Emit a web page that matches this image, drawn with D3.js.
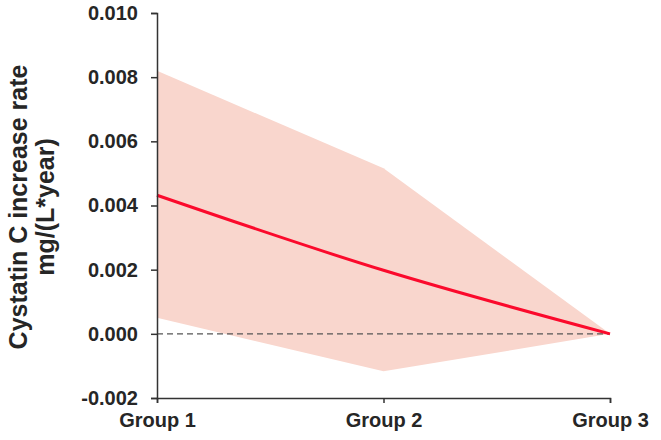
<!DOCTYPE html>
<html><head><meta charset="utf-8">
<script src="https://cdn.jsdelivr.net/npm/d3@7/dist/d3.min.js"></script>
<style>body{margin:0;background:#fff;} svg{display:block;} text{font-family:"Liberation Sans",Arial,sans-serif;font-weight:bold;fill:#262626;}</style>
</head><body><svg id="c" width="661" height="440"></svg>
<script>
const groups = ["Group 1", "Group 2", "Group 3"];
const estimate = [0.00432, 0.00198, 0.0];
const upper = [0.0082, 0.00516, 0.0];
const lower = [0.0005, -0.00117, 0.0];
const yTicks = [-0.002, 0.000, 0.002, 0.004, 0.006, 0.008, 0.010];
const yTitle = ["Cystatin C increase rate", "mg/(L*year)"];

const svg = d3.select("#c");
const x = d3.scalePoint().domain(groups).range([157, 610]);
const y = d3.scaleLinear().domain([-0.002, 0.010]).range([398, 13]);

const data = groups.map((g, i) => ({g, e: estimate[i], u: upper[i], l: lower[i]}));

svg.append("path").datum(data)
  .attr("fill", "#f9d6cd")
  .attr("d", d3.area().x(d => x(d.g)).y0(d => y(d.l)).y1(d => y(d.u)));

svg.append("line")
  .attr("x1", x(groups[0])).attr("x2", x(groups[2]))
  .attr("y1", y(0)).attr("y2", y(0))
  .attr("stroke", "#555").attr("stroke-width", 1.3).attr("stroke-dasharray", "6,4");

svg.append("path").datum(data)
  .attr("fill", "none").attr("stroke", "#fb0a2c").attr("stroke-width", 3)
  .attr("d", d3.line().x(d => x(d.g)).y(d => y(d.e)).curve(d3.curveMonotoneX));

const yAxis = svg.append("g").attr("transform", "translate(157,0)")
  .call(d3.axisLeft(y).tickValues(yTicks).tickFormat(d3.format(".3f")).tickSize(6).tickPadding(13));
const xAxis = svg.append("g").attr("transform", "translate(0,398)")
  .call(d3.axisBottom(x).tickSize(5).tickPadding(10));
[yAxis, xAxis].forEach(a => {
  a.select(".domain").attr("stroke", "#333").attr("stroke-width", 1.5);
  a.selectAll(".tick line").attr("stroke", "#333").attr("stroke-width", 1.5);
  a.selectAll("text").attr("font-size", 20).attr("font-family", "Liberation Sans, Arial, sans-serif").attr("font-weight", "bold").attr("fill", "#262626");
});
yAxis.selectAll("text").text(d => d3.format(".3f")(d).replace("−", "-"));

const t = svg.append("text").attr("transform", "translate(0,207) rotate(-90)").attr("text-anchor", "middle").attr("font-size", 25);
t.append("tspan").attr("x", 0).attr("y", 27).text(yTitle[0]);
t.append("tspan").attr("x", 0).attr("y", 54).text(yTitle[1]);
</script></body></html>
